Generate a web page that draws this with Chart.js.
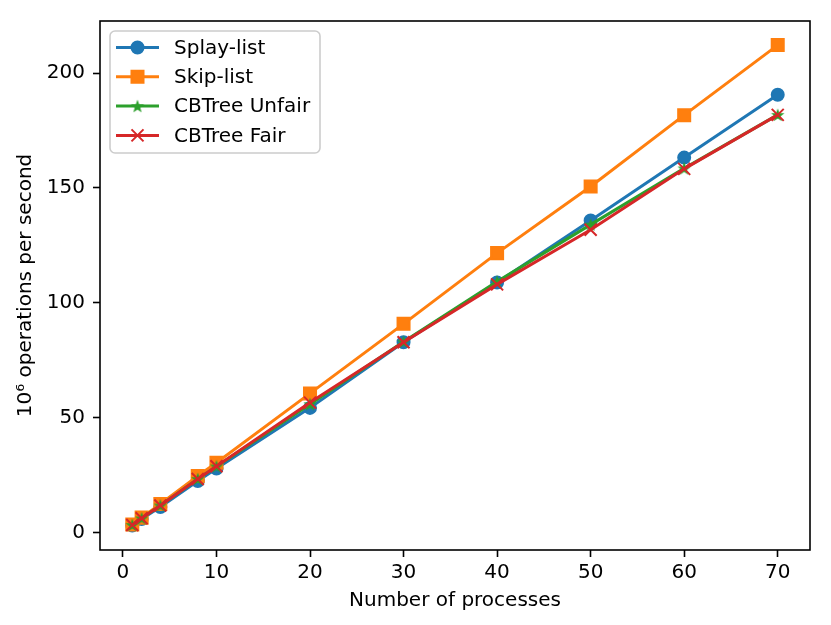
<!DOCTYPE html>
<html>
<head>
<meta charset="utf-8">
<script src="https://cdn.jsdelivr.net/npm/chart.js@4/dist/chart.umd.min.js"></script>
<style>
  html,body{margin:0;padding:0;background:#fff;}
  #wrap{width:831px;height:625px;}
</style>
</head>
<body>
<div id="wrap"><canvas id="chart" width="831" height="625"></canvas></div>
<script>
const processes=[1,2,4,8,10,20,30,40,50,60,70];
const splayList=[3.0,5.8,11.0,22.3,27.8,54.2,82.8,108.8,135.8,163.2,190.6];
const skipList=[3.4,6.4,12.3,24.5,30.3,60.5,90.8,121.6,150.6,181.7,212.2];
const cbtreeUnfair=[3.2,6.1,11.7,23.2,28.7,55.8,83.0,109.2,134.0,158.5,181.8];
const cbtreeFair=[3.2,6.1,11.7,23.2,28.8,56.5,82.8,108.0,131.8,158.3,181.8];
const xTicks=[0,10,20,30,40,50,60,70];
const yTicks=[0,50,100,150,200];

const FONT="'DejaVu Sans', sans-serif";

// filled star marker like matplotlib '*'
function makeStar(color){
  const c=document.createElement("canvas");
  c.width=18;c.height=18;
  const g=c.getContext("2d");
  g.beginPath();
  for(let i=0;i<10;i++){
    const r=i%2===0?7:2.9;
    const a=-Math.PI/2+i*Math.PI/5;
    const px=9+r*Math.cos(a),py=9.5+r*Math.sin(a);
    if(i===0)g.moveTo(px,py);else g.lineTo(px,py);
  }
  g.closePath();
  g.fillStyle=color;
  g.fill();
  return c;
}

function pts(ys){return processes.map((x,i)=>({x:x,y:ys[i]}));}

function series(label,ys,color,style,radius,order){
  return {
    label:label,
    data:pts(ys),
    borderColor:color,
    backgroundColor:color,
    borderWidth:3,
    pointStyle:style,
    pointRadius:radius,
    pointHoverRadius:radius,
    pointBorderWidth:2,
    pointBorderColor:color,
    pointBackgroundColor:color,
    tension:0,
    order:order
  };
}

const datasets=[
  series("Splay-list",splayList,"#1f77b4","circle",6,4),
  series("Skip-list",skipList,"#ff7f0e","rect",8.5,3),
  series("CBTree Unfair",cbtreeUnfair,"#2ca02c",makeStar("#2ca02c"),6,2),
  series("CBTree Fair",cbtreeFair,"#d62728","crossRot",8.5,1)
];

const framePlugin={
  id:"frame",
  afterDatasetsDraw(chart){
    const a=chart.chartArea,ctx=chart.ctx;
    ctx.save();
    ctx.strokeStyle="#000";
    ctx.lineWidth=1.6;
    ctx.strokeRect(a.left,a.top,a.right-a.left,a.bottom-a.top);
    ctx.restore();
  }
};

const legendPlugin={
  id:"mplLegend",
  afterDraw(chart){
    const ctx=chart.ctx;
    const a=chart.chartArea;
    const x0=a.left+10,y0=a.top+10,w=210,h=122;
    ctx.save();
    ctx.beginPath();
    ctx.roundRect(x0,y0,w,h,5);
    ctx.fillStyle="rgba(255,255,255,0.8)";
    ctx.fill();
    ctx.strokeStyle="#cccccc";
    ctx.lineWidth=1.6;
    ctx.stroke();
    chart.data.datasets.forEach((ds,i)=>{
      const cy=y0+16.5+i*29.3;
      ctx.strokeStyle=ds.borderColor;
      ctx.lineWidth=3;
      ctx.beginPath();
      ctx.moveTo(x0+6,cy);
      ctx.lineTo(x0+49,cy);
      ctx.stroke();
      ctx.fillStyle=ds.borderColor;
      ctx.lineWidth=2;
      Chart.helpers.drawPoint(ctx,{pointStyle:ds.pointStyle,rotation:0,radius:ds.pointRadius,borderWidth:2},x0+27.5,cy);
      ctx.fillStyle="#000";
      ctx.font="20px "+FONT;
      ctx.textBaseline="middle";
      ctx.textAlign="left";
      ctx.fillText(ds.label,x0+64,cy+1);
    });
    ctx.restore();
  }
};

const tickFont={family:FONT,size:20};

new Chart(document.getElementById("chart"),{
  type:"line",
  data:{datasets:datasets},
  options:{
    responsive:false,
    animation:false,
    devicePixelRatio:1,
    layout:{padding:{left:0,top:21,right:21,bottom:0}},
    plugins:{legend:{display:false},tooltip:{enabled:false}},
    scales:{
      x:{
        type:"linear",
        min:-2.45,
        max:73.45,
        afterBuildTicks(s){s.ticks=xTicks.map(v=>({value:v}));},
        afterFit(s){s.height=75;},
        grid:{display:true,drawOnChartArea:false,drawTicks:true,tickLength:7,tickWidth:1.6,tickColor:"#000"},
        border:{display:false},
        ticks:{color:"#000",font:tickFont,padding:4,maxRotation:0,autoSkip:false},
        title:{display:true,text:"Number of processes",color:"#000",font:tickFont,padding:{top:0,bottom:12}}
      },
      y:{
        type:"linear",
        min:-7.7,
        max:222.7,
        afterBuildTicks(s){s.ticks=yTicks.map(v=>({value:v}));},
        afterFit(s){s.width=100;},
        grid:{display:true,drawOnChartArea:false,drawTicks:true,tickLength:7,tickWidth:1.6,tickColor:"#000"},
        border:{display:false},
        ticks:{color:"#000",font:tickFont,padding:8,autoSkip:false},
        title:{display:true,text:"10⁶ operations per second",color:"#000",font:tickFont,padding:{top:14,bottom:0}}
      }
    }
  },
  plugins:[framePlugin,legendPlugin]
});
</script>
</body>
</html>
